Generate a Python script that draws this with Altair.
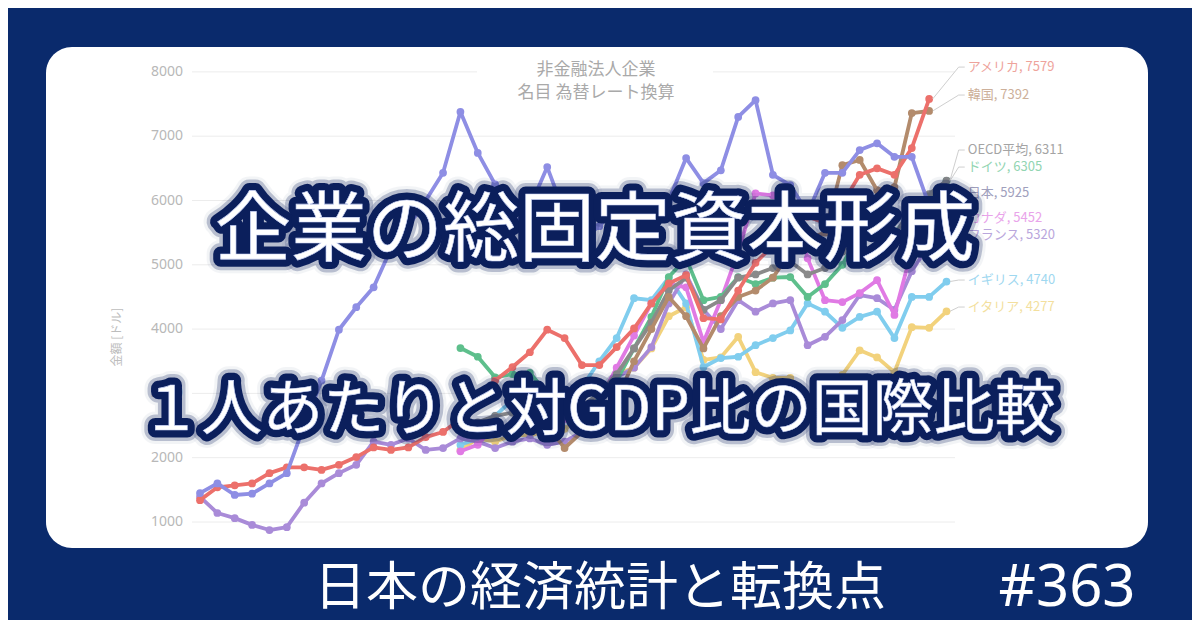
import altair as alt
import pandas as pd

# ---------------- data ----------------
tick_values = [1000, 2000, 3000, 4000, 5000, 6000, 7000, 8000]

japan_start = 1980
japan = [1450, 1600, 1420, 1440, 1600, 1760, 2500, 3200, 3990, 4340,
         4650, 5250, 5600, 6000, 6430, 7380, 6740, 6250, 5600, 5900,
         6520, 5800, 5400, 5600, 5900, 5800, 5600, 6000, 6660, 6270,
         6470, 7300, 7560, 6400, 6240, 5800, 6430, 6430, 6785, 6890,
         6680, 6680, 5925]

usa_start = 1980
usa = [1340, 1540, 1570, 1600, 1760, 1850, 1850, 1810, 1890, 2010,
       2160, 2120, 2160, 2320, 2400, 2600, 2900, 3200, 3410, 3640,
       3990, 3860, 3440, 3440, 3720, 4010, 4400, 4710, 4840, 4170,
       4150, 4600, 5030, 5300, 5600, 5750, 5650, 5950, 6400, 6500,
       6400, 6815, 7579]

france_start = 1980
france = [1390, 1140, 1060, 955, 875, 920, 1300, 1600, 1760, 1890,
          2250, 2200, 2300, 2120, 2150, 2300, 2250, 2150, 2250, 2300,
          2200, 2250, 2400, 2900, 3250, 3400, 3720, 4400, 4850, 4300,
          4000, 4450, 4270, 4400, 4450, 3750, 3880, 4140, 4530, 4480,
          4300, 4900, 5320]

korea_start = 2000
korea = [2500, 2150, 2400, 2600, 2900, 3500, 4000, 4500, 4200, 3700,
         4200, 4500, 4600, 4800, 5200, 5400, 5500, 6550, 6630, 6160,
         6210, 7360, 7392]

germany_start = 1995
germany = [3705, 3570, 3250, 3300, 3320, 3000, 2900, 2700, 2900, 3200,
           3700, 4190, 4810, 5100, 4450, 4500, 4810, 4700, 4800, 4810,
           4500, 4700, 5000, 5500, 5400, 5500, 5800, 6000, 6305]

oecd_start = 1995
oecd = [2500, 2550, 2650, 2700, 2800, 2900, 2850, 2800, 3000, 3300,
        3700, 4100, 4600, 4800, 4300, 4450, 4800, 4850, 4950, 5050,
        4850, 4950, 5200, 5500, 5550, 5450, 5900, 6100, 6311]

canada_start = 1995
canada = [2100, 2200, 2500, 2400, 2500, 2700, 2600, 2550, 2900, 3400,
          3900, 4400, 4700, 4650, 3800, 4450, 5200, 6110, 6080, 6120,
          5100, 4450, 4420, 4560, 4760, 4220, 5230, 5452]

uk_start = 1995
uk = [2200, 2300, 2650, 2900, 3000, 3000, 2900, 3100, 3500, 3860,
      4480, 4450, 4800, 4400, 3410, 3550, 3570, 3750, 3860, 3980,
      4400, 4270, 4020, 4190, 4270, 3860, 4500, 4500, 4740]

italy_start = 1995
italy = [2120, 2300, 2250, 2350, 2350, 2400, 2450, 2600, 3000, 3300,
         3400, 3700, 4200, 4340, 3520, 3560, 3880, 3330, 3240, 3240,
         2850, 2900, 3290, 3670, 3560, 3330, 4030, 4020, 4277]

names = ["イタリア", "イギリス", "フランス", "カナダ", "ドイツ", "OECD平均", "韓国", "アメリカ", "日本"]
starts = [italy_start, uk_start, france_start, canada_start, germany_start, oecd_start, korea_start, usa_start, japan_start]
values = [italy, uk, france, canada, germany, oecd, korea, usa, japan]
line_colors = ["#f2d27c", "#80cdee", "#a98bd8", "#e07ae4", "#5ebf8c", "#8a8a8a", "#b38b6c", "#ec706b", "#8e8ee4"]
label_colors = ["#f3df9e", "#9fd8f0", "#b9a6dc", "#e9a4ea", "#92d5b2", "#a4a4a4", "#cdb09a", "#eea39b", "#a0a0bd"]
label_values = [4343, 4763, 5463, 5727, 6520, 6785, 7640, 8075, 6116]

# ---------------- geometry ----------------
W, H = 1184, 612
xs = alt.Scale(domain=[1968.94, 2037.14], nice=False, zero=False)
ys = alt.Scale(domain=[-524.1, 8993.8], nice=False, zero=False)
JP = "Noto Sans CJK JP"

one = pd.DataFrame({"a": [0]})

layers = []

# white rounded panel
layers.append(alt.Chart(one).mark_rect(color="white", cornerRadius=26).encode(
    x=alt.value(38), x2=alt.value(1140), y=alt.value(39), y2=alt.value(540)))

# gridlines
grid_df = pd.DataFrame({"v": tick_values, "lab": [str(t) for t in tick_values]})
layers.append(alt.Chart(grid_df).mark_rule(color="#ececec", strokeWidth=1).encode(
    y=alt.Y("v:Q", scale=ys, axis=None), x=alt.value(184), x2=alt.value(947)))
layers.append(alt.Chart(grid_df).mark_text(align="right", baseline="middle", font="Noto Sans",
                                           fontSize=14, color="#b8b8b8").encode(
    y=alt.Y("v:Q", scale=ys, axis=None), x=alt.value(175), text="lab:N"))

# y axis title
layers.append(alt.Chart(one).mark_text(text="金額 [ドル]", angle=270, font=JP, fontSize=12,
                                       color="#bdbdbd", baseline="middle", align="center").encode(
    x=alt.value(109), y=alt.value(329)))

# chart title with white box
layers.append(alt.Chart(one).mark_rect(color="white").encode(
    x=alt.value(469), x2=alt.value(705), y=alt.value(54), y2=alt.value(96)))
layers.append(alt.Chart(one).mark_text(text="非金融法人企業", font=JP, fontSize=17, color="#a9a9a9",
                                       align="center", baseline="middle").encode(
    x=alt.value(588), y=alt.value(62)))
layers.append(alt.Chart(one).mark_text(text="名目 為替レート換算", font=JP, fontSize=17, color="#a9a9a9",
                                       align="center", baseline="middle").encode(
    x=alt.value(588), y=alt.value(85)))

# series
lead_rows = []
for nm, st, vals, col, lcol, lv in zip(names, starts, values, line_colors, label_colors, label_values):
    d = pd.DataFrame({"year": list(range(st, st + len(vals))), "value": vals})
    base = alt.Chart(d).encode(x=alt.X("year:Q", scale=xs, axis=None),
                               y=alt.Y("value:Q", scale=ys, axis=None))
    layers.append(base.mark_line(color=col, strokeWidth=3.8, strokeJoin="round"))
    layers.append(base.mark_circle(color=col, size=60, opacity=1))
    end_year = st + len(vals) - 1
    lead_rows.append({"name": nm, "ey": end_year + 0.2, "ev": vals[-1], "my": 2023.7, "lv": lv,
                      "ly": 2024.05, "lab": f"{nm}, {vals[-1]}", "col": lcol})

lead = pd.DataFrame(lead_rows)
layers.append(alt.Chart(lead).mark_rule(color="#cfcfcf", strokeWidth=1).encode(
    x=alt.X("ey:Q", scale=xs, axis=None), x2="my:Q",
    y=alt.Y("ev:Q", scale=ys, axis=None), y2="lv:Q"))
layers.append(alt.Chart(lead).mark_rule(color="#cfcfcf", strokeWidth=1).encode(
    x=alt.X("my:Q", scale=xs, axis=None), x2="ly:Q",
    y=alt.Y("lv:Q", scale=ys, axis=None)))
layers.append(alt.Chart(lead).mark_text(align="left", baseline="middle", font=JP, fontSize=13,
                                        dx=3).encode(
    x=alt.X("ly:Q", scale=xs, axis=None), y=alt.Y("lv:Q", scale=ys, axis=None),
    text="lab:N", color=alt.Color("col:N", scale=None, legend=None)))

# big overlay titles with navy glow
def glow_text(txt, x, y, size):
    out = []
    for sw, op in [(28, 0.22), (22, 0.5), (15, 1.0)]:
        out.append(alt.Chart(one).mark_text(text=txt, font=JP, fontSize=size, align="center",
                                            baseline="middle", color="#0b1f5c", stroke="#0b1f5c",
                                            strokeWidth=sw, strokeOpacity=op, opacity=op,
                                            strokeJoin="round").encode(x=alt.value(x), y=alt.value(y)))
    out.append(alt.Chart(one).mark_text(text=txt, font=JP, fontSize=size, align="center",
                                        baseline="middle", color="white", stroke="#c9d3f5",
                                        strokeWidth=0.6).encode(x=alt.value(x), y=alt.value(y)))
    return out

layers += glow_text("企業の総固定資本形成", 587, 224, 76)
layers += glow_text("１人あたりと対GDP比の国際比較", 590, 404, 61)

# footer
layers.append(alt.Chart(one).mark_text(text="日本の経済統計と転換点", font=JP, fontSize=52, color="white",
                                       align="center", baseline="middle").encode(
    x=alt.value(592), y=alt.value(581)))
layers.append(alt.Chart(one).mark_text(text="#363", font="Noto Sans", fontSize=58, color="white",
                                       align="center", baseline="middle").encode(
    x=alt.value(1059), y=alt.value(581)))

chart = alt.layer(*layers).properties(
    width=W, height=H, padding=0, autosize=alt.AutoSizeParams(type="none")
).configure(background="#0a2a6c").configure_view(stroke=None)

chart.save("out.html", embed_options={"renderer": "svg", "actions": False})
